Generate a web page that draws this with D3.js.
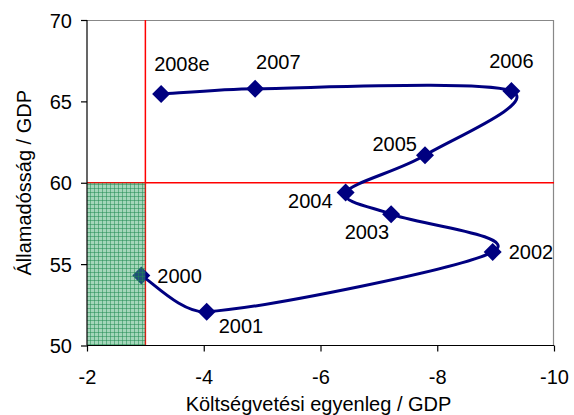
<!DOCTYPE html>
<html>
<head>
<meta charset="utf-8">
<script src="https://cdn.jsdelivr.net/npm/d3@7"></script>
<style>
  html, body { margin: 0; padding: 0; background: #fff; }
  svg { display: block; }
  text { font-family: "Liberation Sans", Arial, sans-serif; fill: #000; }
</style>
</head>
<body>
<svg id="chart" width="574" height="415"></svg>
<script>
// ---- data ----
const years = ["2000", "2001", "2002", "2003", "2004", "2005", "2006", "2007", "2008e"];
const balance = [-2.93, -4.05, -8.95, -7.21, -6.43, -7.79, -9.27, -4.88, -3.27];
const debt = [54.3, 52.07, 55.75, 58.07, 59.4, 61.69, 65.63, 65.78, 65.45];
const xTicks = [-2, -4, -6, -8, -10];
const yTicks = [50, 55, 60, 65, 70];
const debtLimit = 60;
const deficitLimit = -3;
const xTitle = "Költségvetési egyenleg / GDP";
const yTitle = "Államadósság / GDP";

// label placement (pixel offsets from the marker; layout only)
const labelOffsets = [
  {dx: 16, dy: 7, anchor: "start"},
  {dx: 12, dy: 21, anchor: "start"},
  {dx: 16, dy: 7, anchor: "start"},
  {dx: -2, dy: 25, anchor: "end"},
  {dx: -13, dy: 15, anchor: "end"},
  {dx: -8, dy: -4, anchor: "end"},
  {dx: 0, dy: -23, anchor: "middle"},
  {dx: 1, dy: -20, anchor: "start"},
  {dx: -7, dy: -23, anchor: "start"}
];

// ---- Excel-like smoothing curve (Catmull-Rom tangents, arms limited by segment length) ----
function SmoothCurve(context) { this._context = context; }
SmoothCurve.prototype = {
  areaStart() { this._line = 0; },
  areaEnd() { this._line = NaN; },
  lineStart() { this._pts = []; },
  point(px, py) { this._pts.push([+px, +py]); },
  lineEnd() {
    const p = this._pts, n = p.length, c = this._context;
    if (!n) return;
    c.moveTo(p[0][0], p[0][1]);
    if (n === 1) return;
    const arm = (a, b, d) => {
      let vx = (b[0] - a[0]) / 6, vy = (b[1] - a[1]) / 6;
      const len = Math.hypot(vx, vy), lim = d / 3;
      if (len > lim && len > 0) { vx *= lim / len; vy *= lim / len; }
      return [vx, vy];
    };
    for (let i = 0; i < n - 1; i++) {
      const P0 = p[Math.max(i - 1, 0)], P1 = p[i], P2 = p[i + 1], P3 = p[Math.min(i + 2, n - 1)];
      const d = Math.hypot(P2[0] - P1[0], P2[1] - P1[1]);
      const t1 = arm(P0, P2, d), t2 = arm(P1, P3, d);
      c.bezierCurveTo(P1[0] + t1[0], P1[1] + t1[1], P2[0] - t2[0], P2[1] - t2[1], P2[0], P2[1]);
    }
  }
};
const smoothCurve = ctx => new SmoothCurve(ctx);

// ---- layout ----
const W = 574, H = 415;
const margin = {top: 20, right: 20, bottom: 69.5, left: 87};
const iw = W - margin.left - margin.right;
const ih = H - margin.top - margin.bottom;

const svg = d3.select("#chart");
const defs = svg.append("defs");
const pat = defs.append("pattern")
  .attr("id", "gridPat")
  .attr("patternUnits", "userSpaceOnUse")
  .attr("width", 4).attr("height", 4)
  .attr("x", margin.left).attr("y", margin.top);
pat.append("rect").attr("width", 4).attr("height", 4)
  .attr("fill", "#41a96f").attr("fill-opacity", 0.48);
pat.append("rect").attr("x", 0).attr("y", 0).attr("width", 1).attr("height", 4)
  .attr("fill", "#1e8a50").attr("fill-opacity", 0.5);
pat.append("rect").attr("x", 0).attr("y", 0).attr("width", 4).attr("height", 1)
  .attr("fill", "#1e8a50").attr("fill-opacity", 0.5);

const g = svg.append("g").attr("transform", `translate(${margin.left},${margin.top})`);

const x = d3.scaleLinear().domain([-2, -10]).range([0, iw]);
const y = d3.scaleLinear().domain([50, 70]).range([ih, 0]);

// plot border (top & right grey)
g.append("line").attr("x1", 0).attr("x2", iw).attr("y1", 0.5).attr("y2", 0.5)
  .attr("stroke", "#888").attr("stroke-width", 1.2);
g.append("line").attr("x1", iw - 0.5).attr("x2", iw - 0.5).attr("y1", 0).attr("y2", ih)
  .attr("stroke", "#888").attr("stroke-width", 1.2);

// red limit lines
g.append("line").attr("x1", 0).attr("x2", iw).attr("y1", y(debtLimit)).attr("y2", y(debtLimit))
  .attr("stroke", "#ff0000").attr("stroke-width", 1.5);
g.append("line").attr("x1", x(deficitLimit)).attr("x2", x(deficitLimit)).attr("y1", 0).attr("y2", ih)
  .attr("stroke", "#ff0000").attr("stroke-width", 1.5);

// series
const pts = years.map((yr, i) => ({year: yr, bx: balance[i], dy: debt[i], off: labelOffsets[i]}));
const line = d3.line().x(d => x(d.bx)).y(d => y(d.dy)).curve(smoothCurve);
g.append("path").datum(pts).attr("d", line)
  .attr("fill", "none").attr("stroke", "#000080").attr("stroke-width", 3)
  .attr("stroke-linejoin", "round");

const r = 9;
g.selectAll("path.mk").data(pts).enter().append("path").attr("class", "mk")
  .attr("d", d => {
    const cx = x(d.bx), cy = y(d.dy);
    return `M${cx},${cy - r}L${cx + r},${cy}L${cx},${cy + r}L${cx - r},${cy}Z`;
  })
  .attr("fill", "#000080");

// green Maastricht region
g.append("rect")
  .attr("x", x(-2)).attr("y", y(debtLimit))
  .attr("width", x(deficitLimit) - x(-2))
  .attr("height", y(50) - y(debtLimit))
  .attr("fill", "url(#gridPat)");

// labels
g.selectAll("text.lbl").data(pts).enter().append("text").attr("class", "lbl")
  .attr("x", d => x(d.bx) + d.off.dx)
  .attr("y", d => y(d.dy) + d.off.dy)
  .attr("text-anchor", d => d.off.anchor)
  .style("font-size", "20px")
  .text(d => d.year);

// axes
const fmt = d => String(d);
const xAxis = d3.axisBottom(x).tickValues(xTicks).tickSize(6).tickPadding(18).tickFormat(fmt);
const yAxis = d3.axisLeft(y).tickValues(yTicks).tickSize(6).tickPadding(9).tickFormat(fmt);

const gx = g.append("g").attr("transform", `translate(0,${ih})`).call(xAxis);
const gy = g.append("g").call(yAxis);
[gx, gy].forEach(a => {
  a.selectAll("path.domain").attr("stroke", "#000").attr("stroke-width", 1.2);
  a.selectAll(".tick line").attr("stroke", "#000").attr("stroke-width", 1.2);
  a.selectAll(".tick text").style("font-size", "20px")
    .style("font-family", '"Liberation Sans", Arial, sans-serif').attr("fill", "#000");
});
gx.select("path.domain").attr("d", `M0,0H${iw}`);
gy.select("path.domain").attr("d", `M0,0V${ih}`);
gy.selectAll(".tick text").attr("dy", "0.36em");

// axis titles
svg.append("text")
  .attr("x", margin.left + iw / 2 - 2).attr("y", 411)
  .attr("text-anchor", "middle").style("font-size", "20px")
  .text(xTitle);
svg.append("text")
  .attr("transform", `translate(31,${margin.top + ih / 2}) rotate(-90)`)
  .attr("text-anchor", "middle").style("font-size", "20px")
  .text(yTitle);
</script>
</body>
</html>
